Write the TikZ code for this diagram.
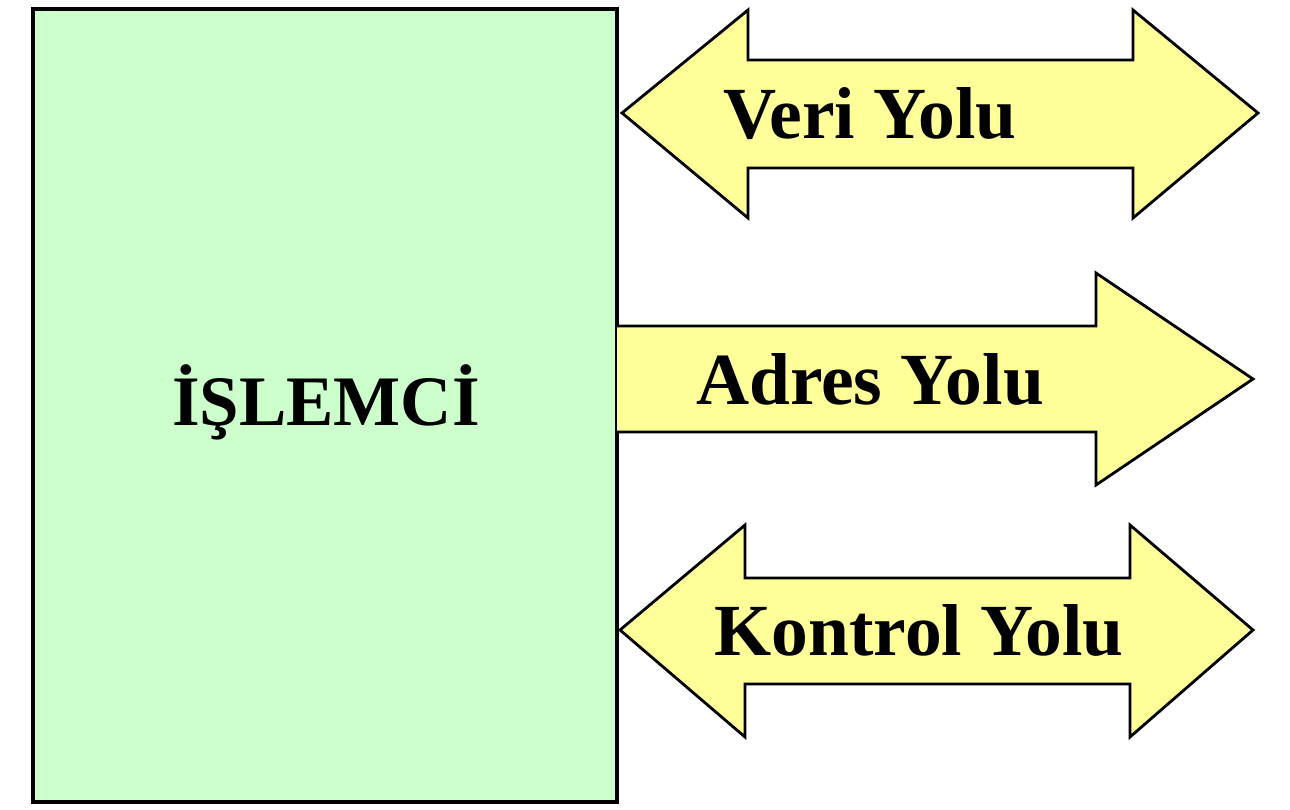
\documentclass[tikz,border=0pt]{standalone}
\usepackage{fontspec}
\setmainfont{Liberation Serif}
\definecolor{boxgreen}{HTML}{CCFFCC}
\definecolor{busyellow}{HTML}{FFFF99}
\tikzset{
  cpubox/.style={draw=black, line width=3.5pt, fill=boxgreen},
  busarrow/.style={draw=black, line width=2.8pt, fill=busyellow, line join=miter},
  buslabel/.style={font=\fontsize{73.5}{88}\selectfont\bfseries, anchor=base, inner sep=0pt},
  cpulabel/.style={font=\fontsize{71}{85}\selectfont\bfseries, anchor=base, inner sep=0pt}
}
\begin{document}
\begin{tikzpicture}[x=1pt,y=-1pt]
\useasboundingbox (0,0) rectangle (1290,809);
% processor box
\draw[cpubox] (33,9) rectangle (617,802);
\node[cpulabel] (cpu) at (326,425) {İŞLEMCİ};
% data bus (double arrow)
\draw[busarrow] (622,113) -- (748,10) -- (748,60) -- (1133,60) -- (1133,10) -- (1258,113)
  -- (1133,218) -- (1133,168) -- (748,168) -- (748,218) -- cycle;
\node[buslabel] (veri) at (870,138) {Veri Yolu};
% address bus (single arrow)
\draw[busarrow] (617,326) -- (1096,326) -- (1096,273) -- (1253,379) -- (1096,485) -- (1096,432) -- (617,432);
\node[buslabel] (adres) at (870,404) {Adres Yolu};
% control bus (double arrow)
\draw[busarrow] (620,630) -- (745,525) -- (745,578) -- (1130,578) -- (1130,525) -- (1253,630)
  -- (1130,737) -- (1130,684) -- (745,684) -- (745,737) -- cycle;
\node[buslabel] (kontrol) at (919,655) {Kontrol Yolu};
\end{tikzpicture}
\end{document}
